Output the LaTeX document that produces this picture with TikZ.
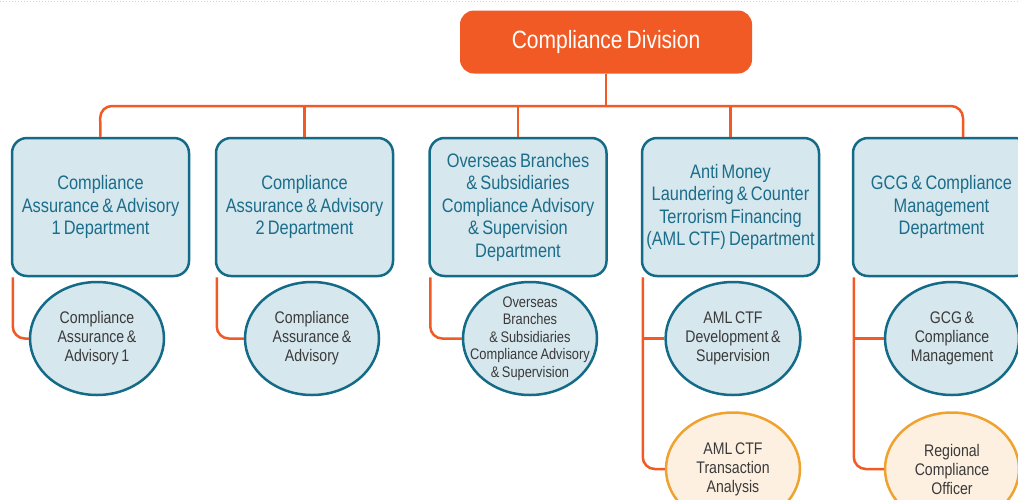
\documentclass[tikz,border=0pt]{standalone}
\usepackage{fontspec}
\setmainfont{Liberation Sans}[FakeStretch=0.84, WordSpace=0.7]
\usetikzlibrary{shapes.geometric, arrows, positioning}

\definecolor{divorange}{HTML}{F15A24}
\definecolor{deptline}{HTML}{146B87}
\definecolor{deptfill}{HTML}{D6E7EE}
\definecolor{depttext}{HTML}{1B6D8A}
\definecolor{unittext}{HTML}{3A3A3A}
\definecolor{altline}{HTML}{F0A22E}
\definecolor{altfill}{HTML}{FDF0E0}

\begin{document}
\begin{tikzpicture}[x=1pt, y=-1pt]
    % Stijlen
    \tikzstyle{division} = [rectangle, rounded corners=14pt, minimum width=292pt, minimum height=63pt, text centered, fill=divorange, text=white, font=\fontsize{25}{28}\selectfont]
    \tikzstyle{dept} = [rectangle, rounded corners=15pt, minimum width=177pt, minimum height=138pt, inner xsep=0pt, align=center, draw=deptline, line width=2.5pt, fill=deptfill, text=depttext, font=\fontsize{19.5}{22.5}\selectfont]
    \tikzstyle{unit} = [ellipse, minimum width=134pt, minimum height=113pt, inner sep=0pt, align=center, draw=deptline, line width=2.5pt, fill=deptfill, text=unittext, font=\fontsize{16.8}{19}\selectfont]
    \tikzstyle{unitalt} = [unit, draw=altline, fill=altfill]
    \tikzstyle{link} = [line width=2.5pt, draw=divorange, rounded corners=12pt]

    \clip (0,0) rectangle (1018,499);
    \draw [divorange!35, dotted, line width=1pt] (0,1) -- (1018,1);

    % Knopen
    \node (div) [division] at (606,42) {Compliance Division};

    \node (d1) [dept] at (100.5,207) {Compliance\\Assurance \& Advisory\\1 Department};
    \node (d2) [dept] at (304.5,207) {Compliance\\Assurance \& Advisory\\2 Department};
    \node (d3) [dept] at (518,207) {Overseas Branches\\\& Subsidiaries\\Compliance Advisory\\\& Supervision\\Department};
    \node (d4) [dept] at (730.5,207) {Anti Money\\Laundering \& Counter\\Terrorism Financing\\(AML CTF) Department};
    \node (d5) [dept] at (941.5,207) {GCG \& Compliance\\Management\\Department};

    \node (u1) [unit] at (97,338.5) {Compliance\\Assurance \&\\Advisory 1};
    \node (u2) [unit] at (312,338.5) {Compliance\\Assurance \&\\Advisory};
    \node (u3) [unit, inner xsep=-28pt, inner ysep=-18pt, font=\fontsize{15.3}{17.5}\selectfont] at (530,338.5) {Overseas\\Branches\\\& Subsidiaries\\Compliance Advisory\\\& Supervision};
    \node (u4) [unit] at (733,338.5) {AML CTF\\Development \&\\Supervision};
    \node (u4b) [unitalt] at (733,469) {AML CTF\\Transaction\\Analysis};
    \node (u5) [unit] at (952,338.5) {GCG \&\\Compliance\\Management};
    \node (u5b) [unitalt] at (952,469) {Regional\\Compliance\\Officer};

    \coordinate (busL) at (100,106);
    \coordinate (busR) at (963,106);

    % Lijnen
    \draw [link] (d1.north) -- (busL) -- (busR) -- (busR |- d5.north);
    \draw [link] (div.south) -- (div.south |- busL);
    \draw [link] (d2.north |- busL) -- (d2.north);
    \draw [link] (d3.north |- busL) -- (d3.north);
    \draw [link] (d4.north |- busL) -- (d4.north);

    \draw [link] ([xshift=2pt]d1.south west) |- (u1.west);
    \draw [link] ([xshift=2pt]d2.south west) |- (u2.west);
    \draw [link] ([xshift=2pt]d3.south west) |- (u3.west);
    \draw [link] ([xshift=2pt]d4.south west) |- (u4b.west);
    \draw [link, rounded corners=0pt] ([xshift=2pt]d4.south west |- u4.west) -- (u4.west);
    \draw [link] ([xshift=2pt]d5.south west) |- (u5b.west);
    \draw [link, rounded corners=0pt] ([xshift=2pt]d5.south west |- u5.west) -- (u5.west);
\end{tikzpicture}
\end{document}
